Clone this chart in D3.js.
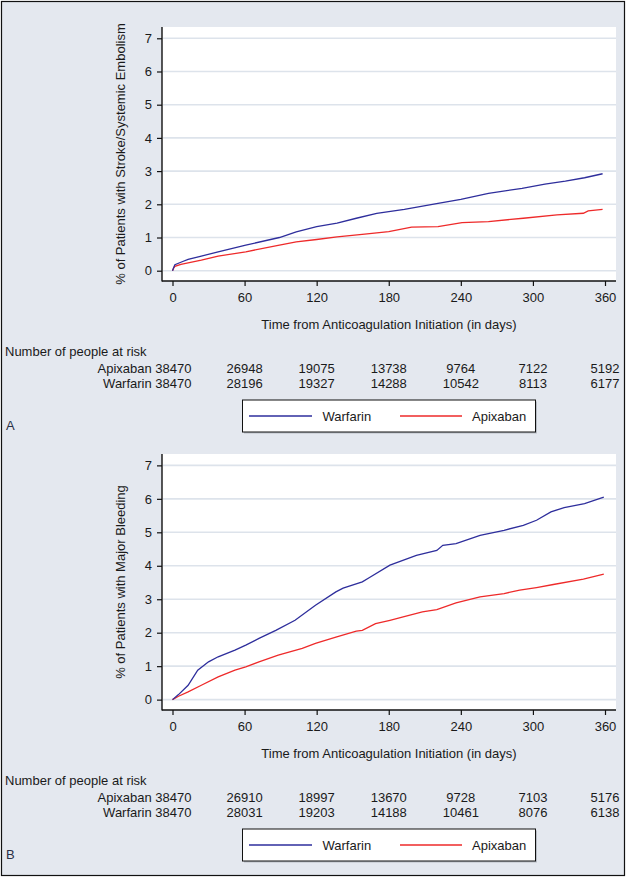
<!DOCTYPE html>
<html>
<head>
<meta charset="utf-8">
<script src="https://cdn.jsdelivr.net/npm/d3@7"></script>
<style>
  html, body { margin: 0; padding: 0; background: #ffffff; }
  svg { display: block; }
  text { font-family: "Liberation Sans", Arial, sans-serif; }
</style>
</head>
<body>
<svg id="chart" width="629" height="878"></svg>
<script>
// ---------------- DATA ----------------
const xTicks = [0, 60, 120, 180, 240, 300, 360];
const yTicks = [0, 1, 2, 3, 4, 5, 6, 7];

// Panel A: Stroke / Systemic Embolism
const strokeWarfarinDays = [0, 1, 2, 8, 13, 24, 38, 61, 89, 103, 120, 137, 153, 170, 193, 221, 240, 263, 291, 310, 327, 343, 358];
const strokeWarfarinPct  = [0, 0.10, 0.18, 0.27, 0.34, 0.44, 0.57, 0.77, 1.00, 1.17, 1.33, 1.43, 1.58, 1.73, 1.85, 2.03, 2.15, 2.33, 2.48, 2.61, 2.70, 2.80, 2.92];
const strokeApixabanDays = [0, 1, 2, 7, 24, 38, 61, 89, 103, 120, 137, 160, 180, 199, 221, 241, 263, 292, 320, 342, 346, 358];
const strokeApixabanPct  = [0, 0.08, 0.13, 0.19, 0.32, 0.44, 0.57, 0.77, 0.87, 0.94, 1.02, 1.10, 1.18, 1.31, 1.33, 1.45, 1.48, 1.58, 1.68, 1.73, 1.80, 1.85];
const strokeRiskApixaban = [38470, 26948, 19075, 13738, 9764, 7122, 5192];
const strokeRiskWarfarin = [38470, 28196, 19327, 14288, 10542, 8113, 6177];

// Panel B: Major Bleeding
const bleedWarfarinDays = [0, 5, 13, 21, 30, 38, 52, 61, 72, 86, 102, 119, 136, 142, 158, 164, 181, 203, 220, 225, 236, 256, 276, 292, 303, 315, 326, 343, 359];
const bleedWarfarinPct  = [0, 0.15, 0.43, 0.88, 1.13, 1.28, 1.48, 1.63, 1.83, 2.07, 2.37, 2.82, 3.22, 3.33, 3.52, 3.65, 4.02, 4.31, 4.46, 4.61, 4.66, 4.91, 5.06, 5.21, 5.36, 5.61, 5.74, 5.86, 6.05];
const bleedApixabanDays = [0, 5, 13, 24, 38, 52, 61, 72, 88, 108, 119, 136, 153, 158, 169, 181, 192, 208, 220, 236, 256, 276, 289, 303, 317, 342, 359];
const bleedApixabanPct  = [0, 0.10, 0.23, 0.43, 0.68, 0.88, 0.98, 1.13, 1.33, 1.53, 1.68, 1.87, 2.05, 2.07, 2.27, 2.37, 2.47, 2.62, 2.69, 2.89, 3.07, 3.17, 3.27, 3.35, 3.44, 3.60, 3.75];
const bleedRiskApixaban = [38470, 26910, 18997, 13670, 9728, 7103, 5176];
const bleedRiskWarfarin = [38470, 28031, 19203, 14188, 10461, 8076, 6138];

const seriesNames = ["Warfarin", "Apixaban"];
const seriesColors = ["#2e2e9c", "#ee2a2a"];

// ---------------- DRAW ----------------
const svg = d3.select("#chart");
const W = 629, H = 878;
const BG = "#e4e8ef";

svg.append("rect").attr("x", 0).attr("y", 0).attr("width", W).attr("height", H).attr("fill", "#ffffff");
svg.append("rect").attr("x", 1.5).attr("y", 1.5).attr("width", 623).attr("height", 874)
  .attr("fill", BG).attr("stroke", "#111").attr("stroke-width", 1.2);

const plotLeft = 162, plotRight = 616;

function panel(cfg) {
  const g = svg.append("g");
  const x = d3.scaleLinear().domain([0, 360]).range([172.5, 605]);
  const y = d3.scaleLinear().domain([-0.31, 7.34]).range([cfg.bottom, cfg.top]);

  // plot background
  g.append("rect").attr("x", plotLeft).attr("y", cfg.top)
    .attr("width", plotRight - plotLeft).attr("height", cfg.bottom - cfg.top)
    .attr("fill", "#ffffff");

  // gridlines
  g.selectAll("line.grid").data(yTicks).join("line")
    .attr("class", "grid")
    .attr("x1", plotLeft + 1).attr("x2", plotRight)
    .attr("y1", d => y(d)).attr("y2", d => y(d))
    .attr("stroke", "#dde3eb").attr("stroke-width", 1.6);

  // curves
  const line = d3.line().x(d => x(d[0])).y(d => y(d[1])).curve(d3.curveLinear);
  const series = [
    d3.zip(cfg.warfarinDays, cfg.warfarinPct),
    d3.zip(cfg.apixabanDays, cfg.apixabanPct)
  ];
  // draw apixaban first, warfarin on top
  [1, 0].forEach(i => {
    g.append("path").datum(series[i])
      .attr("d", line)
      .attr("fill", "none")
      .attr("stroke", seriesColors[i])
      .attr("stroke-width", 1.3);
  });

  // axes
  const xAxis = d3.axisBottom(x).tickValues(xTicks).tickSize(5).tickSizeOuter(0).tickPadding(7);
  const gx = g.append("g").attr("transform", `translate(0,${cfg.bottom})`).call(xAxis);
  gx.select(".domain").remove();
  gx.selectAll(".tick line").attr("stroke", "#111").attr("stroke-width", 1.2);
  gx.selectAll(".tick text").attr("font-size", 13).attr("fill", "#1a1a1a")
    .attr("font-family", '"Liberation Sans", Arial, sans-serif');

  const yAxis = d3.axisLeft(y).tickValues(yTicks).tickSize(5).tickSizeOuter(0).tickPadding(5);
  const gy = g.append("g").attr("transform", `translate(${plotLeft},0)`).call(yAxis);
  gy.select(".domain").remove();
  gy.selectAll(".tick line").attr("stroke", "#111").attr("stroke-width", 1.2);
  gy.selectAll(".tick text").attr("font-size", 13).attr("fill", "#1a1a1a")
    .attr("font-family", '"Liberation Sans", Arial, sans-serif');

  // axis lines
  g.append("line").attr("x1", plotLeft).attr("x2", plotLeft)
    .attr("y1", cfg.top).attr("y2", cfg.bottom + 0.6)
    .attr("stroke", "#111").attr("stroke-width", 1.4);
  g.append("line").attr("x1", plotLeft).attr("x2", plotRight)
    .attr("y1", cfg.bottom).attr("y2", cfg.bottom)
    .attr("stroke", "#111").attr("stroke-width", 1.4);

  // axis titles
  g.append("text")
    .attr("x", (plotLeft + plotRight) / 2).attr("y", cfg.bottom + 43)
    .attr("text-anchor", "middle").attr("dominant-baseline", "central")
    .attr("font-size", 13).attr("fill", "#1a1a1a")
    .text("Time from Anticoagulation Initiation (in days)");

  g.append("text")
    .attr("transform", `translate(120,${(cfg.top + cfg.bottom) / 2}) rotate(-90)`)
    .attr("text-anchor", "middle").attr("dominant-baseline", "central")
    .attr("font-size", 13).attr("fill", "#1a1a1a")
    .text(cfg.yTitle);

  // number at risk
  const base = cfg.bottom;
  g.append("text").attr("x", 5).attr("y", base + 70)
    .attr("dominant-baseline", "central").attr("font-size", 13).attr("fill", "#1a1a1a")
    .text("Number of people at risk");

  const rows = [
    { name: "Apixaban", vals: cfg.riskApixaban, dy: 87 },
    { name: "Warfarin", vals: cfg.riskWarfarin, dy: 102 }
  ];
  rows.forEach(r => {
    g.append("g").selectAll("text").data(r.vals).join("text")
      .attr("x", (d, i) => i === 0 ? x(xTicks[i]) + 19 : x(xTicks[i]))
      .attr("y", base + r.dy)
      .attr("text-anchor", (d, i) => i === 0 ? "end" : "middle")
      .attr("dominant-baseline", "central")
      .attr("font-size", 13).attr("fill", "#1a1a1a")
      .text((d, i) => i === 0 ? `${r.name} ${d}` : d);
  });

  // legend
  const lx = 242.5, ly = base + 119, lw = 293, lh = 32;
  g.append("rect").attr("x", lx + 1.5).attr("y", ly + 1.5).attr("width", lw).attr("height", lh)
    .attr("fill", "#b9bec6");
  g.append("rect").attr("x", lx).attr("y", ly).attr("width", lw).attr("height", lh)
    .attr("fill", "#ffffff").attr("stroke", "#111").attr("stroke-width", 1);
  const legItems = [
    { x1: 249, x2: 312, tx: 322.5 },
    { x1: 400, x2: 462, tx: 472 }
  ];
  legItems.forEach((it, i) => {
    g.append("line").attr("x1", it.x1).attr("x2", it.x2)
      .attr("y1", ly + 16).attr("y2", ly + 16)
      .attr("stroke", seriesColors[i]).attr("stroke-width", 1.4);
    g.append("text").attr("x", it.tx).attr("y", ly + 16)
      .attr("dominant-baseline", "central").attr("font-size", 13).attr("fill", "#1a1a1a")
      .text(seriesNames[i]);
  });

  // panel label
  g.append("text").attr("x", 6).attr("y", base + 144)
    .attr("dominant-baseline", "central").attr("font-size", 13)
    .attr("font-family", '"Liberation Sans Narrow", "Arial Narrow", "Liberation Sans", sans-serif')
    .attr("fill", "#2a2f45")
    .text(cfg.label);
}

panel({
  top: 27, bottom: 281,
  yTitle: "% of Patients with Stroke/Systemic Embolism",
  warfarinDays: strokeWarfarinDays, warfarinPct: strokeWarfarinPct,
  apixabanDays: strokeApixabanDays, apixabanPct: strokeApixabanPct,
  riskApixaban: strokeRiskApixaban, riskWarfarin: strokeRiskWarfarin,
  label: "A"
});

panel({
  top: 454, bottom: 710,
  yTitle: "% of Patients with Major Bleeding",
  warfarinDays: bleedWarfarinDays, warfarinPct: bleedWarfarinPct,
  apixabanDays: bleedApixabanDays, apixabanPct: bleedApixabanPct,
  riskApixaban: bleedRiskApixaban, riskWarfarin: bleedRiskWarfarin,
  label: "B"
});
</script>
</body>
</html>
